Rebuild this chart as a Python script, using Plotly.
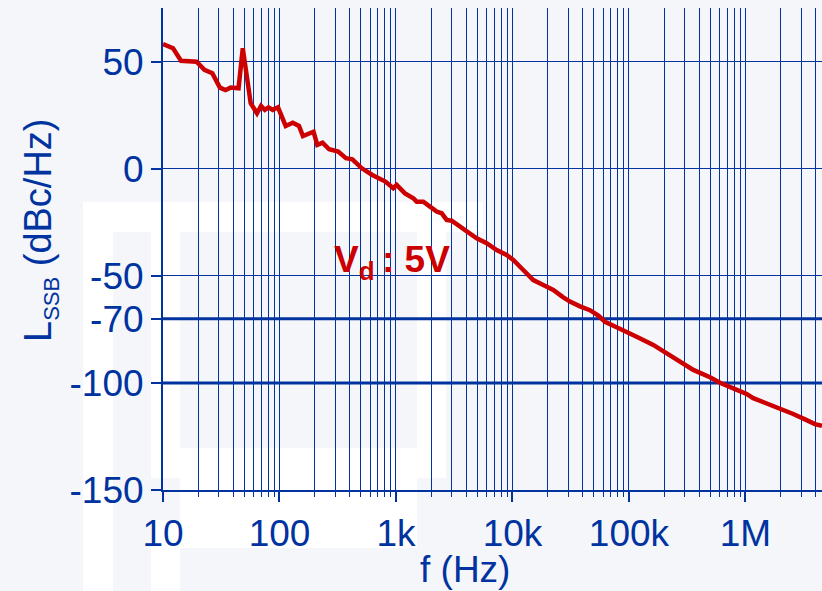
import plotly.graph_objects as go

# Single-sideband phase noise, Vd = 5 V
freq_hz = [10, 12.2, 14.3, 19.4, 22.7, 26.5, 30.8, 34.4, 38.1, 44.5, 48.4, 56.6,
           64.1, 69.4, 74.8, 80.5, 87.5, 97.1, 113, 130, 147, 159, 196, 211, 234,
           267, 319, 372, 422, 509, 626, 811, 948, 1014, 1195, 1409, 1506, 1716,
           1959, 2235, 2466, 2722, 3005, 3541, 4315, 4928, 6007, 7318, 8917,
           10160, 12380, 15090, 18380, 22400, 27290, 31170, 37960, 46240, 54540,
           62260, 75860, 95500, 116400, 161700, 210700, 257000, 356600, 495800,
           604000, 785900, 1023000, 1166000, 1521000, 1977000, 2572000, 3243000,
           3953000, 4540000]
lssb_dbc = [58.4, 56.4, 50.5, 50.1, 46.3, 44.7, 38.0, 36.9, 38.0, 37.7, 56.4, 30.7,
            26.0, 29.4, 27.6, 28.8, 27.6, 28.8, 20.1, 21.6, 20.1, 15.4, 17.4, 11.2,
            12.3, 9.2, 8.1, 5.0, 4.5, 0.3, -2.8, -5.9, -9.0, -7.5, -11.4, -13.7,
            -15.3, -15.3, -17.6, -19.9, -20.7, -23.8, -24.2, -27.0, -30.0, -32.4,
            -34.7, -37.9, -40.2, -42.5, -47.2, -51.9, -54.2, -56.5, -60.0, -62.0,
            -64.2, -66.0, -68.5, -71.4, -73.6, -76.4, -78.4, -82.2, -86.1, -89.3,
            -93.9, -97.3, -99.9, -102.5, -105.1, -107.1, -109.5, -111.8, -114.5,
            -117.0, -119.2, -120.0]

x_tick_vals = [10, 100, 1e3, 1e4, 1e5, 1e6]
x_tick_text = ["10", "100", "1k", "10k", "100k", "1M"]
y_tick_vals = [-150, -100, -70, -50, 0, 50]
y_tick_text = ["-150", "-100", "-70", "-50", "0", "50"]
ref_levels_dbc = [-70, -100]

BLUE = "#0033a0"
RED = "#cc0000"
FONT = "Liberation Sans, Arial, sans-serif"
W, H = 822, 591
ML, MR, MT, MB = 163, 0, 8, 101
PW, PH = W - ML - MR, H - MT - MB


def px_x(px):
    return (px - ML) / PW


def px_y(py):
    return (H - MB - py) / PH


minor_vals = [d * 10 ** e for e in range(1, 7) for d in range(2, 10)]

fig = go.Figure()
fig.add_trace(go.Scatter(x=freq_hz, y=lssb_dbc, mode="lines",
                         line=dict(color=RED, width=4.5), hoverinfo="skip"))

# faint background watermark blocks (pixel boxes)
wm_boxes = [(83, 202, 113, 591), (113, 202, 483, 232), (151, 232, 180, 478),
            (151, 520, 180, 591), (180, 448, 417, 548), (417, 232, 446, 478)]
shapes = []
for x0, y0, x1, y1 in wm_boxes:
    shapes.append(dict(type="rect", xref="paper", yref="paper",
                       x0=px_x(x0), x1=px_x(x1), y0=px_y(y1), y1=px_y(y0),
                       fillcolor="#ffffff", line=dict(width=0), layer="below"))
for lvl in ref_levels_dbc:
    shapes.append(dict(type="line", xref="paper", yref="y", x0=0, x1=1,
                       y0=lvl, y1=lvl, line=dict(color=BLUE, width=3),
                       layer="between"))

fig.update_layout(
    width=W, height=H,
    margin=dict(l=ML, r=MR, t=MT, b=MB, pad=0),
    paper_bgcolor="#f4f6f9",
    plot_bgcolor="rgba(0,0,0,0)",
    showlegend=False,
    shapes=shapes,
    font=dict(family=FONT, color=BLUE, size=37),
    annotations=[
        dict(text="f (Hz)", xref="paper", yref="paper", x=px_x(465), y=px_y(569),
             xanchor="center", yanchor="middle", showarrow=False,
             font=dict(size=37, color=BLUE, family=FONT)),
        dict(text="L<sub><span style='font-size:22px'>SSB</span></sub> (dBc/Hz)",
             xref="paper", yref="paper", x=px_x(40), y=px_y(230),
             xanchor="center", yanchor="middle", textangle=-90, showarrow=False,
             font=dict(size=38, color=BLUE, family=FONT)),
        dict(text="<b>V<sub><span style='font-size:26px'>d</span></sub>\u2009: 5V</b>",
             xref="paper", yref="paper", x=px_x(332), y=px_y(262),
             xanchor="left", yanchor="middle", showarrow=False,
             font=dict(size=37, color=RED, family=FONT)),
    ],
)

fig.update_xaxes(
    type="log", range=[1, 6.657],
    tickmode="array", tickvals=x_tick_vals, ticktext=x_tick_text,
    ticks="outside", ticklen=10, tickwidth=1.5, tickcolor=BLUE,
    tickfont=dict(size=37, color=BLUE, family=FONT),
    showline=True, linecolor=BLUE, linewidth=2,
    showgrid=True, gridcolor=BLUE, gridwidth=1,
    minor=dict(tickmode="array", tickvals=minor_vals, ticks="outside",
               ticklen=5, tickwidth=1, tickcolor=BLUE,
               showgrid=True, gridcolor=BLUE, gridwidth=1),
    zeroline=False,
)
fig.update_yaxes(
    range=[-150, 75.2],
    tickmode="array", tickvals=y_tick_vals, ticktext=y_tick_text,
    ticks="outside", ticklen=10, tickwidth=1.5, tickcolor=BLUE,
    tickfont=dict(size=37, color=BLUE, family=FONT),
    showline=True, linecolor=BLUE, linewidth=2,
    showgrid=True, gridcolor=BLUE, gridwidth=1,
    zeroline=False,
)

fig.write_html("out.html")
